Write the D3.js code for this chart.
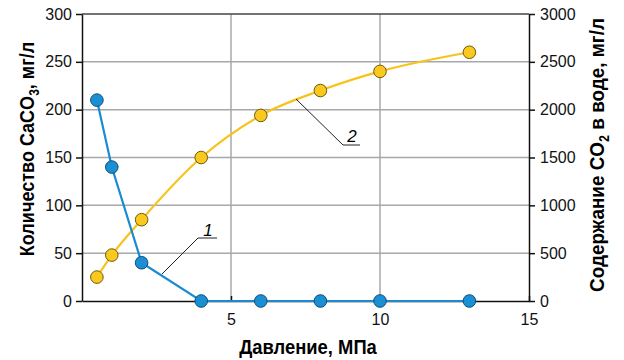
<!DOCTYPE html>
<html><head><meta charset="utf-8">
<script src="https://cdn.jsdelivr.net/npm/d3@7"></script>
<style>
body{margin:0;background:#fff;}
text{font-family:"Liberation Sans",Arial,sans-serif;}
.ttl{font-weight:bold;}
</style></head>
<body><svg id="c" width="624" height="360"></svg>
<script>
const pressure = [0.5, 1, 2, 4, 6, 8, 10, 13];
const caco3 = [210, 140, 40, 0, 0, 0, 0, 0];
const co2 = [250, 480, 850, 1500, 1940, 2200, 2400, 2600];
const xTicks = [5, 10, 15];
const leftTicks = [0, 50, 100, 150, 200, 250, 300];
const rightTicks = [0, 500, 1000, 1500, 2000, 2500, 3000];

const svg = d3.select("#c");
const L = 82, R = 529, T = 14, B = 301;
const x = d3.scaleLinear().domain([0, 15]).range([L, R]);
const yL = d3.scaleLinear().domain([0, 300]).range([B, T]);
const yR = d3.scaleLinear().domain([0, 3000]).range([B, T]);

// grid
svg.append("g").selectAll("line").data([5, 10]).join("line")
  .attr("x1", d => x(d)).attr("x2", d => x(d)).attr("y1", T).attr("y2", B)
  .attr("stroke", "#a8a8a8").attr("stroke-width", 1.5);
svg.append("g").selectAll("line").data([50, 100, 150, 200, 250]).join("line")
  .attr("x1", L).attr("x2", R).attr("y1", d => yL(d)).attr("y2", d => yL(d))
  .attr("stroke", "#a8a8a8").attr("stroke-width", 1.5);
// top border
svg.append("line").attr("x1", L).attr("x2", R).attr("y1", T).attr("y2", T)
  .attr("stroke", "#444").attr("stroke-width", 1.5);

function styleAxis(g) {
  g.selectAll(".domain").attr("stroke", "#111").attr("stroke-width", 1.5);
  g.selectAll(".tick line").attr("stroke", "#111").attr("stroke-width", 1.5);
  g.selectAll("text").style("font-size", "16px").attr("fill", "#111");
}
svg.append("g").attr("transform", `translate(${L},0)`)
  .call(d3.axisLeft(yL).tickValues(leftTicks).tickFormat(d3.format("d")).tickSize(6).tickSizeOuter(0).tickPadding(4))
  .call(styleAxis);
svg.append("g").attr("transform", `translate(${R},0)`)
  .call(d3.axisRight(yR).tickValues(rightTicks).tickFormat(d3.format("d")).tickSize(6).tickSizeOuter(0).tickPadding(5))
  .call(styleAxis);
svg.append("g").attr("transform", `translate(0,${B})`)
  .call(d3.axisBottom(x).tickValues(xTicks).tickFormat(d3.format("d")).tickSize(-5).tickSizeOuter(0).tickPadding(13))
  .call(styleAxis);

// lines
const pts1 = pressure.map((p, i) => [p, caco3[i]]);
const pts2 = pressure.map((p, i) => [p, co2[i]]);
svg.append("path").datum(pts2)
  .attr("d", d3.line().x(d => x(d[0])).y(d => yR(d[1])).curve(d3.curveMonotoneX))
  .attr("fill", "none").attr("stroke", "#f7c31a").attr("stroke-width", 2.2);
svg.append("path").datum(pts1)
  .attr("d", d3.line().x(d => x(d[0])).y(d => yL(d[1])))
  .attr("fill", "none").attr("stroke", "#1a8bd0").attr("stroke-width", 2.2);

svg.append("g").selectAll("circle").data(pts2).join("circle")
  .attr("cx", d => x(d[0])).attr("cy", d => yR(d[1])).attr("r", 6.3)
  .attr("fill", "#fbc91e").attr("stroke", "#6e5a10").attr("stroke-width", 1);
svg.append("g").selectAll("circle").data(pts1).join("circle")
  .attr("cx", d => x(d[0])).attr("cy", d => yL(d[1])).attr("r", 6.3)
  .attr("fill", "#1b8fd4").attr("stroke", "#0f4d78").attr("stroke-width", 1);

// annotations
svg.append("polyline").attr("points", "162,274 198,238 217,238")
  .attr("fill", "none").attr("stroke", "#222").attr("stroke-width", 1);
svg.append("text").attr("x", 208).attr("y", 236).attr("text-anchor", "middle")
  .style("font-size", "17px").style("font-style", "italic").text("1");
svg.append("polyline").attr("points", "296,99 343,145 360,145")
  .attr("fill", "none").attr("stroke", "#222").attr("stroke-width", 1);
svg.append("text").attr("x", 352).attr("y", 142).attr("text-anchor", "middle")
  .style("font-size", "17px").style("font-style", "italic").text("2");

// titles (horizontally condensed to mimic a condensed bold face)
svg.append("text").attr("class", "ttl").attr("transform", "translate(308,354) scale(0.92,1)")
  .attr("text-anchor", "middle").style("font-size", "20px").text("Давление, МПа");

const lt = svg.append("text").attr("class", "ttl").attr("transform", "translate(34,149) rotate(-90) scale(0.86,1)")
  .attr("text-anchor", "middle").style("font-size", "21px");
lt.append("tspan").text("Количество  CaCO");
lt.append("tspan").attr("dy", 5).style("font-size", "14px").text("3");
lt.append("tspan").attr("dy", -5).text(", мг/л");

const rt = svg.append("text").attr("class", "ttl").attr("transform", "translate(604,155) rotate(-90) scale(0.9,1)")
  .attr("text-anchor", "middle").style("font-size", "21px");
rt.append("tspan").text("Содержание CO");
rt.append("tspan").attr("dy", 5).style("font-size", "14px").text("2");
rt.append("tspan").attr("dy", -5).text(" в воде, мг/л");
</script></body></html>
